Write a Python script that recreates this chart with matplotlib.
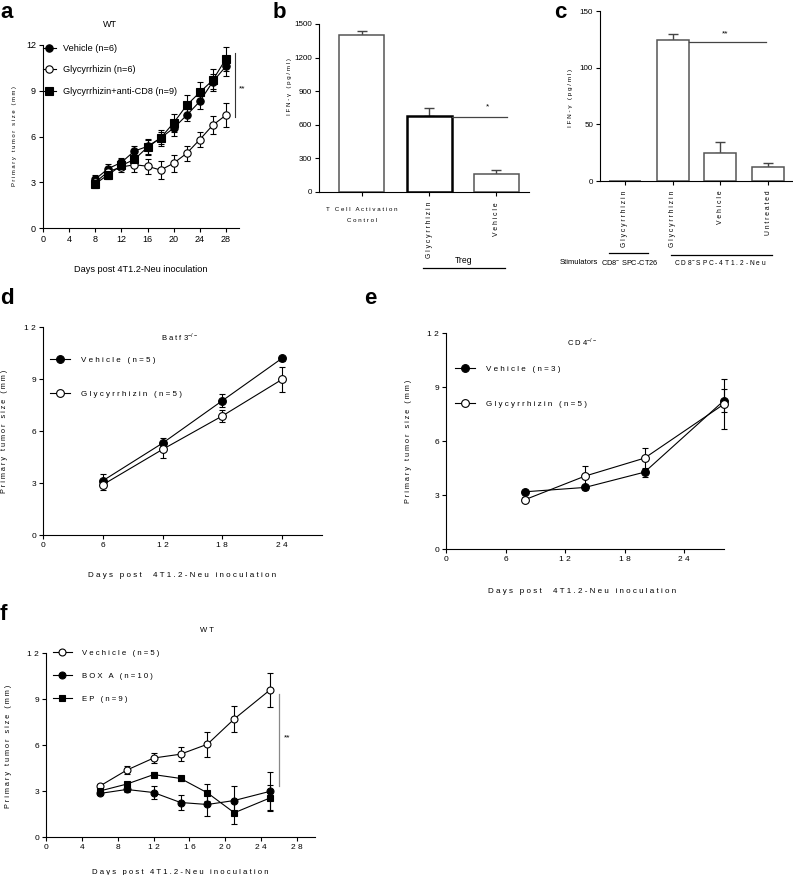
import matplotlib
matplotlib.use("Agg")
import matplotlib.pyplot as plt
from matplotlib.lines import Line2D

plt.rcParams["font.family"] = ["Liberation Sans", "DejaVu Sans"]
plt.rcParams["mathtext.fontset"] = "custom"
plt.rcParams["mathtext.rm"] = "Liberation Sans"

# ── data ──────────────────────────────────────────────────────────────────────
# a : WT, three treatments
a_days = [8, 10, 12, 14, 16, 18, 20, 22, 24, 26, 28]
a_veh = [3.2, 3.9, 4.3, 5.05, 5.35, 5.9, 6.55, 7.4, 8.3, 9.6, 10.6]
a_veh_err = [0.3, 0.3, 0.3, 0.3, 0.5, 0.4, 0.5, 0.4, 0.5, 0.5, 0.6]
a_gly = [3.0, 3.7, 4.0, 4.15, 4.05, 3.8, 4.25, 4.9, 5.8, 6.75, 7.4]
a_gly_err = [0.3, 0.3, 0.3, 0.5, 0.5, 0.6, 0.55, 0.5, 0.5, 0.6, 0.8]
a_cd8 = [2.9, 3.5, 4.1, 4.5, 5.3, 5.9, 6.9, 8.05, 8.9, 9.7, 11.1]
a_cd8_err = [0.3, 0.3, 0.3, 0.4, 0.5, 0.5, 0.6, 0.7, 0.7, 0.7, 0.8]

# b : IFN-gamma, Treg
b_vals = [1400, 675, 160]
b_err = [35, 75, 40]

# c : IFN-gamma, stimulators
c_vals = [0, 124, 24.4, 12.1]
c_err = [0, 5.5, 10.3, 3.5]
c_labels = ["Glycyrrhizin", "Glycyrrhizin", "Vehicle", "Untreated"]

# d : Batf3-/-
d_days = [6, 12, 18, 24]
d_veh = [3.13, 5.3, 7.75, 10.2]
d_veh_err = [0.37, 0.3, 0.37, 0.15]
d_gly = [2.9, 4.94, 6.87, 8.98]
d_gly_err = [0.3, 0.48, 0.35, 0.73]

# e : CD4-/-
e_days = [8, 14, 20, 28]
e_veh = [3.18, 3.42, 4.27, 8.25]
e_veh_err = [0.12, 0.12, 0.25, 0.62]
e_gly = [2.75, 4.05, 5.05, 8.05]
e_gly_err = [0.12, 0.57, 0.58, 1.37]

# f : WT, BOX A / EP
f_days = [6, 9, 12, 15, 18, 21, 25]
f_veh = [3.32, 4.36, 5.15, 5.4, 6.05, 7.7, 9.6]
f_veh_err = [0.12, 0.25, 0.35, 0.47, 0.8, 0.85, 1.1]
f_box = [2.84, 3.1, 2.9, 2.25, 2.12, 2.38, 2.98]
f_box_err = [0.12, 0.15, 0.4, 0.52, 0.75, 0.95, 1.25]
f_ep = [3.0, 3.45, 4.07, 3.82, 2.88, 1.58, 2.55]
f_ep_err = [0.12, 0.15, 0.15, 0.15, 0.55, 0.75, 0.85]

# ── helpers ───────────────────────────────────────────────────────────────────
W, H = 793, 875
fig = plt.figure(figsize=(W / 100, H / 100), dpi=100)


def sp(s):
    return " ".join(s)


def add_ax(left, right, top, bottom):
    return fig.add_axes([left / W, (H - bottom) / H,
                         (right - left) / W, (bottom - top) / H])


def style(ax, size=6.5):
    ax.spines[["top", "right"]].set_visible(False)
    for s in ("left", "bottom"):
        ax.spines[s].set_linewidth(0.8)
    ax.tick_params(direction="out", length=3, width=0.8,
                   labelsize=size, pad=2)


def series(ax, x, y, err, marker, filled, ms=5.3):
    ax.errorbar(x, y, yerr=err, color="black", lw=0.8, elinewidth=0.8,
                capsize=2.2, capthick=0.8, marker=marker, ms=ms,
                mfc="black" if filled else "white", mec="black",
                mew=0.8, clip_on=False, zorder=3)


def handle(marker, filled, ms=5.3):
    return Line2D([], [], color="black", lw=0.8, marker=marker, ms=ms,
                  mfc="black" if filled else "white", mec="black", mew=0.8)


def letter(x, y, s):
    fig.text(x / W, 1 - y / H, s, fontsize=16, fontweight="bold",
             ha="left", va="center")


# ── a ─────────────────────────────────────────────────────────────────────────
ax = add_ax(43, 239, 45, 228)
style(ax)
series(ax, a_days, a_veh, a_veh_err, "o", True)
series(ax, a_days, a_gly, a_gly_err, "o", False)
series(ax, a_days, a_cd8, a_cd8_err, "s", True)
ax.set_xlim(0, 30)
ax.set_ylim(0, 12)
ax.set_xticks(range(0, 29, 4))
ax.set_yticks(range(0, 13, 3))
ax.set_xlabel("Days post 4T1.2-Neu inoculation", fontsize=6.6)
ax.xaxis.set_label_coords(0.5, -0.2)
ax.set_ylabel(sp("Primary tumor size (mm)"), fontsize=4.2)
ax.yaxis.set_label_coords(-0.135, 0.5)
ax.text(0.34, 1.11, "WT", transform=ax.transAxes, ha="center",
        va="center", fontsize=6.5)
ax.plot([29.4, 29.4], [7.3, 11.5], color="#333333", lw=0.8, clip_on=False)
ax.text(30.5, 9.1, "**", fontsize=6, ha="center", va="center")
ax.legend([handle("o", True), handle("o", False), handle("s", True)],
          ["Vehicle (n=6)", "Glycyrrhizin (n=6)",
           "Glycyrrhizin+anti-CD8 (n=9)"],
          loc="upper left", bbox_to_anchor=(0.0, 1.005), frameon=False,
          fontsize=6.6, handlelength=1.4, handletextpad=0.8,
          labelspacing=1.35, borderpad=0, borderaxespad=0)
letter(0, 12, "a")

# ── b ─────────────────────────────────────────────────────────────────────────
ax = add_ax(319, 529, 24, 192)
style(ax, 5.8)
bx = list(range(len(b_vals)))
ax.bar(bx, b_vals, width=0.67, color="white",
       edgecolor=["#555555", "black", "#555555"], linewidth=[1.1, 1.8, 1.1],
       zorder=2)
ax.errorbar(bx, b_vals, yerr=[[0] * len(b_err), b_err], fmt="none",
            ecolor="#444444", elinewidth=1, capsize=3.5, capthick=1,
            zorder=1)
ax.set_xlim(-0.64, 2.49)
ax.set_ylim(0, 1500)
ax.set_yticks(range(0, 1501, 300))
ax.set_xticks(bx)
ax.set_xticklabels([])
ax.set_ylabel(sp("IFN-γ (pg/ml)"), fontsize=4.4)
ax.yaxis.set_label_coords(-0.13, 0.63)
xt = ax.get_xaxis_transform()
ax.text(0, -0.09, sp("T Cell Activation") + "\n" + sp("Control"),
        transform=xt, ha="center", va="top", fontsize=4.4, linespacing=2.5)
ax.text(1, -0.06, sp("Glycyrrhizin"), transform=xt, ha="center",
        va="top", rotation=90, fontsize=4.9)
ax.text(2, -0.06, sp("Vehicle"), transform=xt, ha="center",
        va="top", rotation=90, fontsize=4.9)
ax.plot([0.91, 2.13], [-0.452, -0.452], transform=xt, color="black",
        lw=0.9, clip_on=False)
ax.text(1.51, -0.435, "Treg", transform=xt, ha="center", va="bottom",
        fontsize=6.2)
ax.plot([1.335, 2.16], [670, 670], color="#444444", lw=0.9)
ax.text(1.87, 760, "*", ha="center", va="center", fontsize=6)
letter(273, 12, "b")

# ── c ─────────────────────────────────────────────────────────────────────────
ax = add_ax(600, 792, 11, 181)
style(ax, 5.8)
cx = list(range(len(c_vals)))
ax.bar(cx, c_vals, width=0.67, color="white", edgecolor="#555555",
       linewidth=1.1, zorder=2)
ax.errorbar(cx[1:], c_vals[1:], yerr=[[0] * 3, c_err[1:]], fmt="none",
            ecolor="#444444", elinewidth=1, capsize=3.5, capthick=1,
            zorder=1)
ax.set_xlim(-0.52, 3.5)
ax.set_ylim(0, 150)
ax.set_yticks([0, 50, 100, 150])
ax.set_xticks(cx)
ax.set_xticklabels([])
ax.set_ylabel(sp("IFN-γ (pg/ml)"), fontsize=4.6)
ax.yaxis.set_label_coords(-0.14, 0.49)
xt = ax.get_xaxis_transform()
for xi, lab in zip(cx, c_labels):
    ax.text(xi, -0.055, sp(lab), transform=xt, ha="center", va="top",
            rotation=90, fontsize=4.9)
ax.plot([-0.34, 0.48], [-0.424, -0.424], transform=xt, color="black",
        lw=0.9, clip_on=False)
ax.plot([0.96, 3.08], [-0.436, -0.436], transform=xt, color="black",
        lw=0.9, clip_on=False)
ax.text(-1.36, -0.48, "Stimulators", transform=xt, ha="left",
        va="center", fontsize=5.5)
ax.text(0.1, -0.48, "CD8$^{-}$ SPC-CT26", transform=xt, ha="center",
        va="center", fontsize=5.3)
ax.text(2.0, -0.48, sp("CD8") + "$^{-}$ " + sp("SPC-4T1.2-Neu"),
        transform=xt, ha="center", va="center", fontsize=4.8)
ax.plot([1.335, 2.96], [122.6, 122.6], color="#444444", lw=0.9)
ax.text(2.1, 129.5, "**", ha="center", va="center", fontsize=6)
letter(554, 13, "c")

# ── d ─────────────────────────────────────────────────────────────────────────
ax = add_ax(43, 322, 327, 535)
style(ax, 6)
series(ax, d_days, d_veh, d_veh_err, "o", True, 5.6)
series(ax, d_days, d_gly, d_gly_err, "o", False, 5.6)
ax.set_xlim(0, 28)
ax.set_ylim(0, 12)
ax.set_xticks(range(0, 25, 6))
ax.set_xticklabels([sp(str(v)) for v in range(0, 25, 6)])
ax.set_yticks(range(0, 13, 3))
ax.set_yticklabels([sp(str(v)) for v in range(0, 13, 3)])
ax.set_xlabel(sp("Days post  4T1.2-Neu inoculation"), fontsize=5.8)
ax.xaxis.set_label_coords(0.5, -0.178)
ax.set_ylabel(sp("Primary tumor size (mm)"), fontsize=5.2)
ax.yaxis.set_label_coords(-0.125, 0.5)
ax.text(0.49, 0.95, sp("Batf3") + "$^{-/-}$", transform=ax.transAxes,
        ha="center", va="center", fontsize=5.5)
ax.legend([handle("o", True, 5.6), handle("o", False, 5.6)],
          [sp("Vehicle (n=5)"), sp("Glycyrrhizin (n=5)")],
          loc="upper left", bbox_to_anchor=(0.025, 0.86), frameon=False,
          fontsize=5.8, handlelength=2.5, handletextpad=1.3,
          labelspacing=3.3, borderpad=0, borderaxespad=0)
letter(0, 298, "d")

# ── e ─────────────────────────────────────────────────────────────────────────
ax = add_ax(446, 724, 333, 549)
style(ax, 6)
series(ax, e_days, e_veh, e_veh_err, "o", True, 5.6)
series(ax, e_days, e_gly, e_gly_err, "o", False, 5.6)
ax.set_xlim(0, 28)
ax.set_ylim(0, 12)
ax.set_xticks(range(0, 25, 6))
ax.set_xticklabels([sp(str(v)) for v in range(0, 25, 6)])
ax.set_yticks(range(0, 13, 3))
ax.set_yticklabels([sp(str(v)) for v in range(0, 13, 3)])
ax.set_xlabel(sp("Days post  4T1.2-Neu inoculation"), fontsize=5.8)
ax.xaxis.set_label_coords(0.49, -0.18)
ax.set_ylabel(sp("Primary tumor size (mm)"), fontsize=5.2)
ax.yaxis.set_label_coords(-0.122, 0.5)
ax.text(0.49, 0.958, sp("CD4") + "$^{-/-}$", transform=ax.transAxes,
        ha="center", va="center", fontsize=5.5)
ax.legend([handle("o", True, 5.6), handle("o", False, 5.6)],
          [sp("Vehicle (n=3)"), sp("Glycyrrhizin (n=5)")],
          loc="upper left", bbox_to_anchor=(0.032, 0.85), frameon=False,
          fontsize=5.8, handlelength=2.5, handletextpad=1.3,
          labelspacing=3.4, borderpad=0, borderaxespad=0)
letter(364, 298, "e")

# ── f ─────────────────────────────────────────────────────────────────────────
ax = add_ax(46, 315, 653, 837)
style(ax, 6)
series(ax, f_days, f_veh, f_veh_err, "o", False, 5)
series(ax, f_days, f_box, f_box_err, "o", True, 5)
series(ax, f_days, f_ep, f_ep_err, "s", True, 5)
ax.set_xlim(0, 30)
ax.set_ylim(0, 12)
ax.set_xticks(range(0, 29, 4))
ax.set_xticklabels([sp(str(v)) for v in range(0, 29, 4)])
ax.set_yticks(range(0, 13, 3))
ax.set_yticklabels([sp(str(v)) for v in range(0, 13, 3)])
ax.set_xlabel(sp("Days post 4T1.2-Neu inoculation"), fontsize=5.6)
ax.xaxis.set_label_coords(0.5, -0.174)
ax.set_ylabel(sp("Primary tumor size (mm)"), fontsize=5.2)
ax.yaxis.set_label_coords(-0.126, 0.49)
ax.text(0.6, 1.12, sp("WT"), transform=ax.transAxes, ha="center",
        va="center", fontsize=5.5)
ax.plot([26.0, 26.0], [3.3, 9.3], color="#888888", lw=0.9, clip_on=False)
ax.text(26.9, 6.46, "**", ha="center", va="center", fontsize=6)
ax.legend([handle("o", False, 5), handle("o", True, 5), handle("s", True, 5)],
          [sp("Vechicle (n=5)"), sp("BOX A (n=10)"), sp("EP (n=9)")],
          loc="upper left", bbox_to_anchor=(0.026, 1.02), frameon=False,
          fontsize=5.6, handlelength=2.4, handletextpad=1.3,
          labelspacing=2.0, borderpad=0, borderaxespad=0)
letter(0, 615, "f")

fig.savefig("out.png", dpi=100)
